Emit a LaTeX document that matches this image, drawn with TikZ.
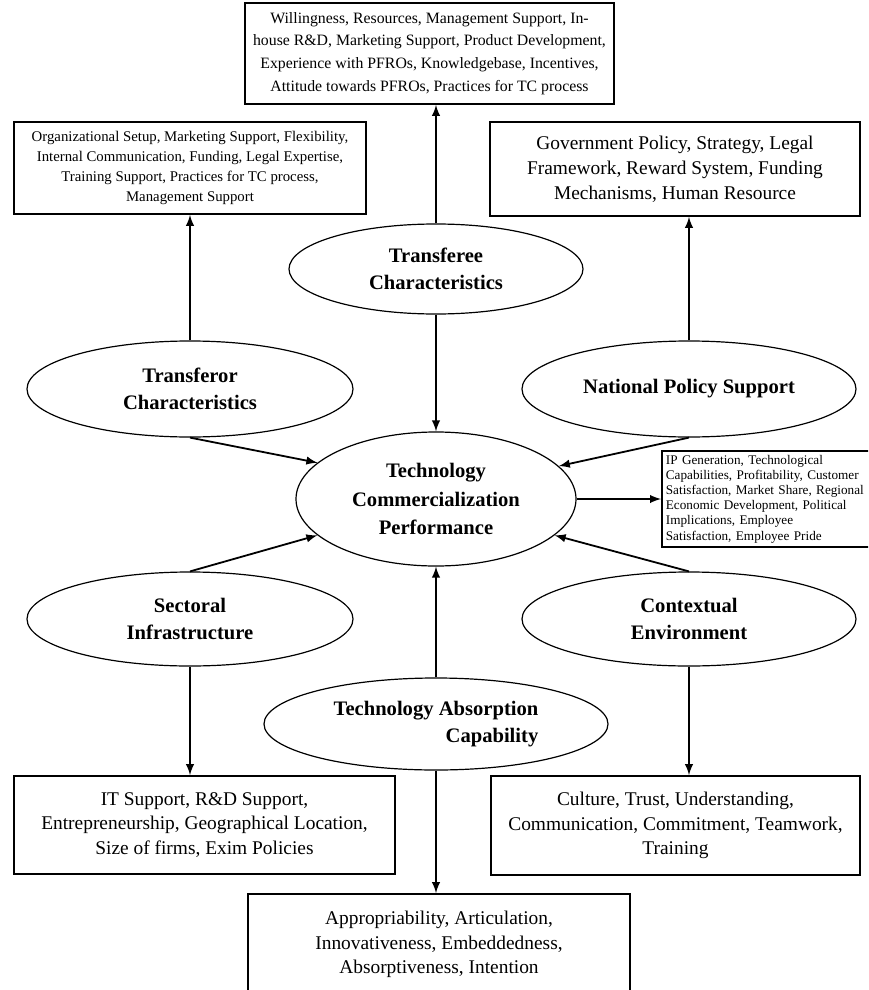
\documentclass[tikz,border=0pt]{standalone}
\usepackage{fontspec}
\setmainfont{Liberation Serif}
\usetikzlibrary{calc}
\usetikzlibrary{shapes.geometric}
\tikzstyle{factor} = [ellipse, draw, line width=0.6pt, inner sep=0pt, align=center, font=\bfseries\fontsize{10.3}{13.7}\selectfont]
\tikzstyle{attr} = [rectangle, draw, line width=0.9pt, inner sep=0pt, align=center, font=\fontsize{9.7}{12.4}\selectfont]
\tikzstyle{link} = [->, >=latex, line width=0.9pt]

\begin{document}
\begin{tikzpicture}[x=0.5pt,y=-0.5pt]

	\clip (0,0) rectangle (868,990);

	% factors round the centre
	\node[factor, minimum width=147pt, minimum height=45pt] (tee) at (436,269) {Transferee\\Characteristics};
	\node[factor, minimum width=163pt, minimum height=48pt] (tor) at (190,389) {Transferor\\Characteristics};
	\node[factor, minimum width=167pt, minimum height=48pt] (nps) at (689,389) {National Policy Support};
	\node[factor, minimum width=140pt, minimum height=67pt, font=\bfseries\fontsize{10.3}{14.3}\selectfont] (tcp) at (436,499) {Technology\\Commercialization\\Performance};
	\node[factor, minimum width=163pt, minimum height=47pt] (sec) at (190,619) {Sectoral\\Infrastructure};
	\node[factor, minimum width=167pt, minimum height=47pt] (ctx) at (689,619) {Contextual\\Environment};
	\node[factor, minimum width=172pt, minimum height=46pt, align=right] (tac) at (436,724) {Technology Absorption\\Capability};

	% attribute boxes
	\node[attr, minimum width=184.5pt, minimum height=50.5pt, font=\fontsize{7.9}{11.35}\selectfont] (teebox) at (429.5,53.5)
		{Willingness, Resources, Management Support, In-\\house R\&D, Marketing Support, Product Development,\\Experience with PFROs, Knowledgebase, Incentives,\\Attitude towards PFROs, Practices for TC process};
	\node[attr, minimum width=176pt, minimum height=46pt, font=\fontsize{7.4}{10.15}\selectfont] (torbox) at (190,168)
		{Organizational Setup, Marketing Support, Flexibility,\\Internal Communication, Funding, Legal Expertise,\\Training Support, Practices for TC process,\\Management Support};
	\node[attr, minimum width=185pt, minimum height=47pt] (npsbox) at (675,169)
		{Government Policy, Strategy, Legal\\Framework, Reward System, Funding\\Mechanisms, Human Resource};
	\node[attr, anchor=west, text width=105pt, align=left, inner sep=2pt, minimum height=47pt, font=\fontsize{6.6}{7.6}\selectfont] (tcpbox) at (661,499)
		{IP Generation, Technological\\Capabilities, Profitability, Customer\\Satisfaction, Market Share, Regional\\Economic Development, Political\\Implications, Employee\\Satisfaction, Employee Pride};
	\node[attr, minimum width=190.5pt, minimum height=49pt] (secbox) at (204.5,825)
		{IT Support, R\&D Support,\\Entrepreneurship, Geographical Location,\\Size of firms, Exim Policies};
	\node[attr, minimum width=184.5pt, minimum height=49.5pt] (ctxbox) at (675.5,825.5)
		{Culture, Trust, Understanding,\\Communication, Commitment, Teamwork,\\Training};
	\node[attr, minimum width=191pt, minimum height=50.5pt] (tacbox) at (439,944.5)
		{Appropriability, Articulation,\\Innovativeness, Embeddedness,\\Absorptiveness, Intention};

	% links
	\draw[link] (tee.north) -- (tee.north |- teebox.south);
	\draw[link] (tee.south) -- (tcp.north);
	\draw[link] (tor.north) -- (tor.north |- torbox.south);
	\draw[link] (tor.south) -- (tcp.163);
	\draw[link] (nps.north) -- (nps.north |- npsbox.south);
	\draw[link] (nps.south) -- (tcp.15);
	\draw[link] (tcp.east) -- (tcpbox.west);
	\draw[link] (sec.north) -- (tcp.197);
	\draw[link] (sec.south) -- (sec.south |- secbox.north);
	\draw[link] (ctx.north) -- (tcp.-17);
	\draw[link] (ctx.south) -- (ctx.south |- ctxbox.north);
	\draw[link] (tac.north) -- (tcp.south);
	\draw[link] (tac.south) -- (tac.south |- tacbox.north);

\end{tikzpicture}
\end{document}
